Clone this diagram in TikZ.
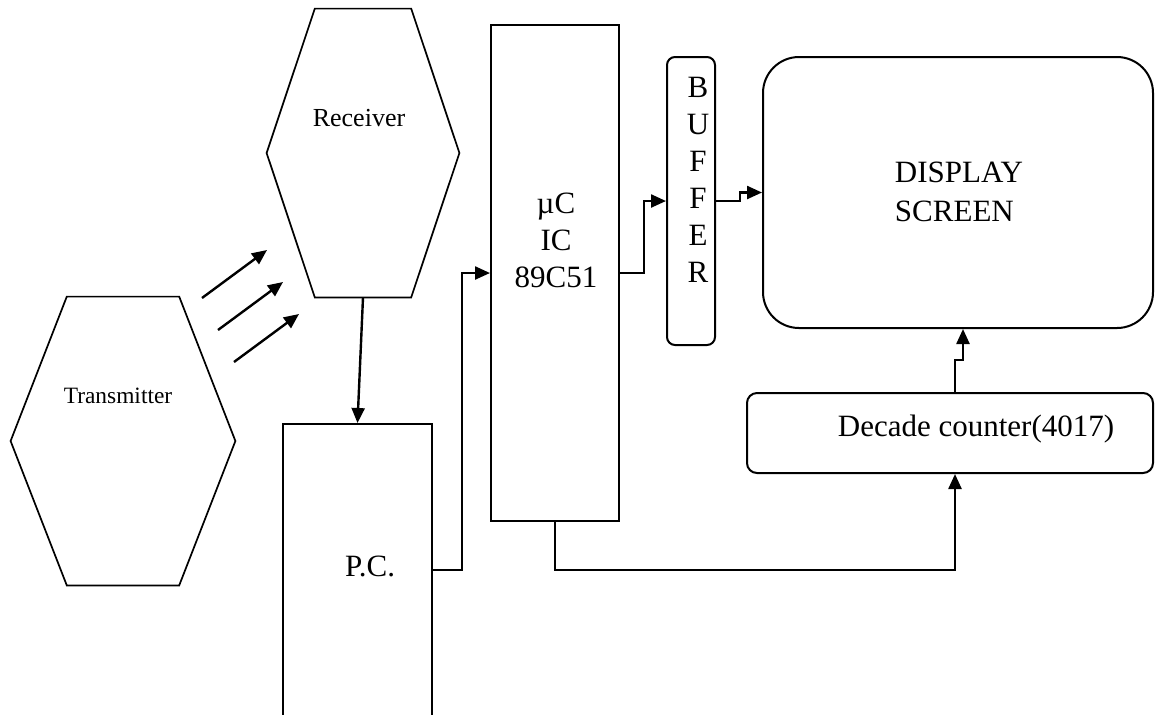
\documentclass[tikz,border=0pt]{standalone}
\usepackage{fontspec}
\setmainfont{Liberation Serif}
\usepackage{tikz}
\usetikzlibrary{calc}
\usetikzlibrary{arrows.meta}
\usetikzlibrary{positioning}
\tikzset{
 blk/.style={draw, line width=1pt, rectangle, inner sep=0},
 rblk/.style={blk, rounded corners=#1},
 hexa/.style={rectangle, inner sep=0},
 lbl/.style={font=\fontsize{15.5}{18.5}\selectfont, align=center, inner sep=0},
 wire/.style={line width=1.2pt, -{Triangle[length=7.5pt,width=6.5pt]}},
}
\newcommand{\hexline}[1]{\draw[line width=0.85pt] ($(#1.north west)!.25!(#1.north east)$) -- ($(#1.north west)!.75!(#1.north east)$) -- (#1.east) -- ($(#1.south west)!.75!(#1.south east)$) -- ($(#1.south west)!.25!(#1.south east)$) -- (#1.west) -- cycle;}

\begin{document}
\begin{tikzpicture}[x=0.5pt,y=-0.5pt]
\useasboundingbox (0,0) rectangle (1156,714);
\clip (0,0) rectangle (1156,714);

\node[hexa, minimum width=96pt, minimum height=144pt] (rcv) at (363,153) {};
\node[hexa, minimum width=112pt, minimum height=144pt] (tx) at (123,441) {};
\hexline{rcv}
\hexline{tx}
\node[lbl, font=\fontsize{13}{15}\selectfont] (rcvtxt) at (359,118) {Receiver};
\node[lbl, font=\fontsize{11.7}{14}\selectfont] (txtxt) at (118,396) {Transmitter};

\node[blk, minimum width=74.5pt, minimum height=146pt] (pc) at (357.5,570) {};
\node[lbl] (pctxt) at (370,566) {P.C.};

\node[blk, minimum width=64pt, minimum height=248pt] (mc) at (555,273) {};
\node[lbl] (mctxt) at (556,240) {µC\\IC\\89C51};

\node[rblk=4pt, minimum width=24pt, minimum height=144pt] (buf) at (691,201) {};
\node[lbl] (buftxt) at (698,180) {B\\U\\F\\F\\E\\R};

\node[rblk=18pt, minimum width=195pt, minimum height=135.5pt] (disp) at (958,192.5) {};
\node[lbl, align=left, font=\fontsize{15.5}{19.5}\selectfont] (disptxt) at (959,192) {DISPLAY\\SCREEN};

\node[rblk=5pt, minimum width=203pt, minimum height=40pt] (dec) at (950,433) {};
\node[lbl] (dectxt) at (976,429) {Decade counter(4017)};

\foreach \i in {0,1,2} {
 \coordinate (ir\i) at (202+16*\i, 298+32*\i);
 \draw[wire] (ir\i) -- ++(65,-48);
}

\draw[wire] (rcv.south) -- (pc.north);
\draw[wire] (pc.east) -- ++(29,0) |- (mc.west);
\draw[wire] (mc.east) -- ++(24,0) |- (buf.west);
\draw[wire] (buf.east) -- ++(24,0) |- (disp.west);
\draw[wire] (mc.south) -- ++(0,48) -| ([xshift=2.5pt]dec.south);
\draw[wire] ([xshift=2.5pt]dec.north) -- ++(0,-32) -| ([xshift=2.5pt]disp.south);
\end{tikzpicture}
\end{document}
